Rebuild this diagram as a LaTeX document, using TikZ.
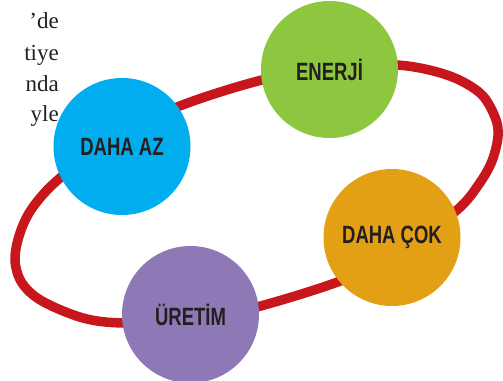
\documentclass[tikz,border=0pt]{standalone}
\usepackage{fontspec}
\setmainfont{Liberation Serif}
\newfontfamily\labfont[FakeStretch=0.74]{Liberation Sans}
\definecolor{ringred}{HTML}{C8161D}
\definecolor{cblue}{HTML}{00AEEF}
\definecolor{cgreen}{HTML}{8DC63F}
\definecolor{corange}{HTML}{E3A014}
\definecolor{cpurple}{HTML}{8E78B6}
\definecolor{labtext}{HTML}{231F20}
\begin{document}
\begin{tikzpicture}[x=1pt,y=-1pt,
  bubble/.style={circle,minimum size=137pt,inner sep=0pt,text=labtext,
    font=\labfont\bfseries\fontsize{25}{30}\selectfont},
  bodytext/.style={anchor=base east,inner sep=0pt,font=\fontsize{23}{27}\selectfont,text=labtext}]
\useasboundingbox (0,0) rectangle (503,380);
\draw[ringred,line width=9.5pt] plot[smooth cycle,tension=0.55] coordinates {
  (15,260) (20,233) (33,207) (60,178) (120,133) (185,104) (262,80) (330,68)
  (397,65) (447,75) (480,93) (495,117) (498,136) (492,161) (479,184) (457,210)
  (400,252) (343,280) (257,307) (190,321) (123,323) (83,318) (42,301) (22,283)};
\node[bubble,fill=cblue] (az) at (122,146.5) {DAHA AZ};
\node[bubble,fill=cgreen] (enerji) at (329.5,69.5) {ENERJİ};
\node[bubble,fill=corange] (cok) at (392,237.5) {DAHA ÇOK};
\node[bubble,fill=cpurple] (uretim) at (190.5,314.5) {ÜRETİM};
\node[bodytext] (l1) at (59,28) {’de};
\node[bodytext] (l2) at (59,60) {tiye};
\node[bodytext] (l3) at (59,91) {nda};
\node[bodytext] (l4) at (59,121) {yle};
\end{tikzpicture}
\end{document}
